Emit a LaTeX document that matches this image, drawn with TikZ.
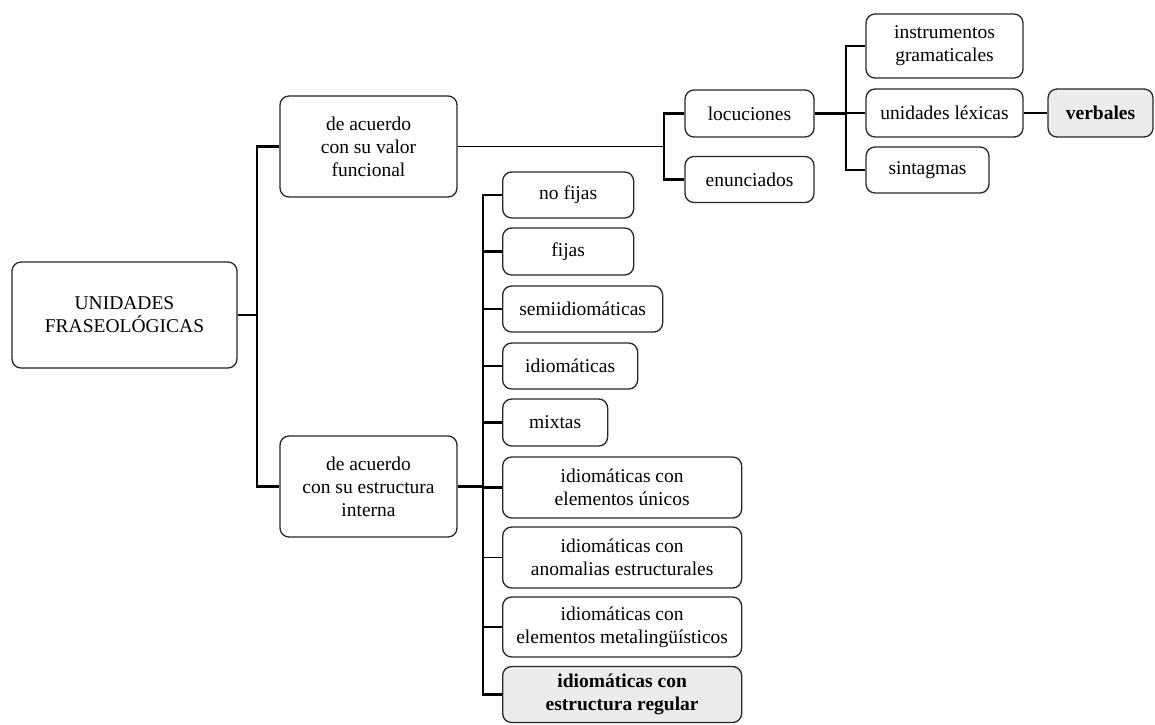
\documentclass[tikz,border=0pt]{standalone}
\usepackage{fontspec}
\setmainfont{LiberationSerif}[Extension=.ttf,UprightFont=*-Regular,BoldFont=*-Bold,ItalicFont=*-Italic,BoldItalicFont=*-BoldItalic]
\tikzstyle{boxnode} = [draw=black!85,line width=1.3pt,rounded corners=9pt,align=center,inner sep=2pt,font=\fontsize{19.5}{23}\selectfont]
\tikzstyle{boldnode} = [boxnode,fill=gray!15,font=\fontsize{19.5}{23}\selectfont\bfseries]
\tikzstyle{link} = [line width=2.2pt]
\tikzstyle{thinlink} = [line width=1.1pt]

\begin{document}
\begin{tikzpicture}[x=1pt,y=-1pt]
  \useasboundingbox (0,0) rectangle (1155,724);
  \node[boxnode,minimum width=225pt,minimum height=106pt] (root) at (124.5,315) {UNIDADES\\FRASEOLÓGICAS};
  \node[boxnode,minimum width=177pt,minimum height=101pt] (valor) at (368.5,146.5) {de acuerdo\\con su valor\\funcional};
  \node[boxnode,minimum width=177pt,minimum height=101pt] (estructura) at (368.5,486.5) {de acuerdo\\con su estructura\\interna};
  % valor funcional
  \node[boxnode,minimum width=129pt,minimum height=47pt] (locuciones) at (749.5,113.5) {locuciones};
  \node[boxnode,minimum width=129pt,minimum height=46pt] (enunciados) at (749.5,179.5) {enunciados};
  \node[boxnode,minimum width=157pt,minimum height=64pt] (instrumentos) at (944.5,46) {instrumentos\\gramaticales};
  \node[boxnode,minimum width=157pt,minimum height=48pt] (unidades) at (944.5,113) {unidades léxicas};
  \node[boxnode,minimum width=123pt,minimum height=46pt] (sintagmas) at (927.5,170) {sintagmas};
  \node[boldnode,minimum width=105pt,minimum height=48pt] (verbales) at (1100.5,113) {verbales};
  % estructura interna
  \node[boxnode,anchor=west,minimum width=131pt,minimum height=46pt] (nofijas) at (502,195) {no fijas};
  \node[boxnode,anchor=west,minimum width=131pt,minimum height=47pt] (fijas) at (502,251.5) {fijas};
  \node[boxnode,anchor=west,minimum width=160pt,minimum height=46pt] (semi) at (502,309) {semiidiomáticas};
  \node[boxnode,anchor=west,minimum width=135pt,minimum height=46pt] (idiom) at (502,366) {idiomáticas};
  \node[boxnode,anchor=west,minimum width=105pt,minimum height=47pt] (mixtas) at (502,422.5) {mixtas};
  \node[boxnode,anchor=west,minimum width=239pt,minimum height=61pt] (unicos) at (502,487.5) {idiomáticas con\\elementos únicos};
  \node[boxnode,anchor=west,minimum width=239pt,minimum height=61pt] (anomalias) at (502,557.5) {idiomáticas con\\anomalias estructurales};
  \node[boxnode,anchor=west,minimum width=239pt,minimum height=60pt] (metaling) at (502,627) {idiomáticas con\\elementos metalingüísticos};
  \node[boldnode,anchor=west,minimum width=239pt,minimum height=56pt] (regular) at (502,694.5) {idiomáticas con\\estructura regular};

  \draw[link] (root.east) -- ++(19,0) coordinate (trunk);
  \draw[link] (trunk) |- (valor.west);
  \draw[link] (trunk) |- (estructura.west);
  \draw[thinlink] (valor.east) -- ++(206,0) coordinate (fbus);
  \draw[link] (fbus) |- (locuciones.west);
  \draw[link] (fbus) |- (enunciados.west);
  \draw[link] (locuciones.east) -- ++(31,0) coordinate (lbus);
  \foreach \n in {instrumentos,unidades,sintagmas}
    \draw[link] (lbus) |- (\n.west);
  \draw[link] (unidades.east) -- (verbales.west);
  \draw[link] (estructura.east) -- ++(25,0) coordinate (ebus);
  \foreach \n in {nofijas,fijas,semi,idiom,mixtas,unicos,metaling,regular}
    \draw[link] (ebus) |- (\n.west);
  \draw[thinlink] (ebus) |- (anomalias.west);
\end{tikzpicture}
\end{document}
